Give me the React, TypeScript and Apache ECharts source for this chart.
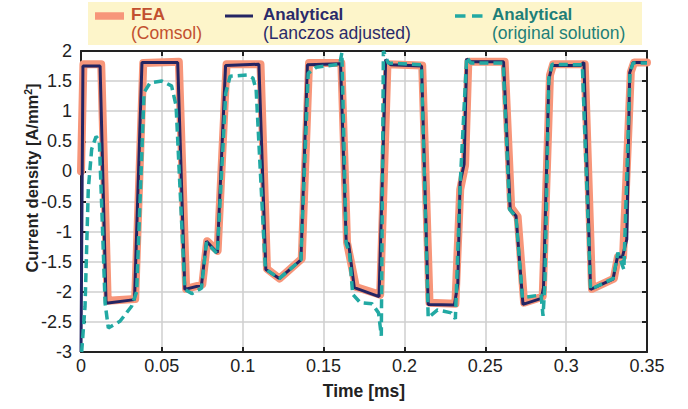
import { useEffect, useRef } from 'react';
import * as echarts from 'echarts';

// ---------- data (time in ms, current density in A/mm^2) ----------
const xTicks = [0, 0.05, 0.1, 0.15, 0.2, 0.25, 0.3, 0.35];
const yTicks = [-3, -2.5, -2, -1.5, -1, -0.5, 0, 0.5, 1, 1.5, 2];

const feaTime = [0, 0.0015, 0.0125, 0.0165, 0.0335, 0.0385, 0.0605, 0.065, 0.075, 0.078, 0.0845, 0.09, 0.111, 0.115, 0.1228, 0.1365, 0.141, 0.161, 0.1645, 0.17, 0.185, 0.1895, 0.211, 0.2155, 0.2315, 0.2345, 0.2375, 0.2395, 0.262, 0.266, 0.27, 0.274, 0.2855, 0.29, 0.292, 0.3115, 0.316, 0.3295, 0.332, 0.3352, 0.34, 0.342, 0.35];
const feaValue = [0, 1.78, 1.78, -2.15, -2.12, 1.8, 1.82, -1.95, -1.88, -1.16, -1.32, 1.78, 1.78, -1.62, -1.78, -1.45, 1.8, 1.8, -1.18, -1.92, -2.05, 1.78, 1.76, -2.18, -2.2, -0.3, 0.1, 1.82, 1.82, -0.6, -0.75, -2.18, -2.08, 1.6, 1.78, 1.78, -1.95, -1.78, -1.42, -1.42, 1.65, 1.81, 1.81];

const lanczosTime = [0, 0.0012, 0.0118, 0.0155, 0.0331, 0.0377, 0.0598, 0.0642, 0.0745, 0.0776, 0.0843, 0.0894, 0.11, 0.1143, 0.1226, 0.136, 0.14, 0.1605, 0.164, 0.1655, 0.169, 0.1843, 0.1884, 0.1915, 0.2106, 0.2147, 0.2309, 0.233, 0.2344, 0.2369, 0.2385, 0.2406, 0.2613, 0.2654, 0.269, 0.2733, 0.2847, 0.286, 0.2893, 0.2913, 0.3089, 0.311, 0.3151, 0.329, 0.3317, 0.3348, 0.3375, 0.3393, 0.3414, 0.35];
const lanczosValue = [-3, 1.75, 1.75, -2.19, -2.13, 1.81, 1.81, -1.96, -1.89, -1.16, -1.35, 1.76, 1.78, -1.63, -1.78, -1.47, 1.77, 1.79, -1.18, -1.2, -1.93, -2.08, 1.86, 1.77, 1.75, -2.21, -2.22, -1.87, -0.19, 0.12, 1.87, 1.82, 1.82, -0.63, -0.74, -2.21, -2.11, -1.93, 1.53, 1.76, 1.76, 1.81, -1.96, -1.79, -1.42, -1.42, -1.13, 1.64, 1.81, 1.81];

const originalTime = [0.0004, 0.0025, 0.0045, 0.0066, 0.0093, 0.0113, 0.0128, 0.0149, 0.0169, 0.0241, 0.0313, 0.0344, 0.039, 0.0427, 0.05, 0.056, 0.0588, 0.0642, 0.0685, 0.0745, 0.0776, 0.0843, 0.0895, 0.0922, 0.1025, 0.1063, 0.1083, 0.114, 0.1226, 0.136, 0.1405, 0.1455, 0.16, 0.1613, 0.164, 0.166, 0.168, 0.1727, 0.18, 0.184, 0.1857, 0.187, 0.19, 0.2105, 0.2147, 0.2205, 0.229, 0.2315, 0.2345, 0.2385, 0.241, 0.261, 0.265, 0.269, 0.273, 0.2845, 0.2857, 0.2868, 0.2893, 0.2913, 0.31, 0.3151, 0.329, 0.332, 0.3357, 0.3395, 0.3414, 0.35];
const originalValue = [-3, -2.24, -0.3, 0.37, 0.58, 0.52, -0.57, -2.19, -2.6, -2.49, -2.24, -2.0, 1.31, 1.47, 1.5, 1.42, 1.09, -1.96, -2.03, -1.94, -1.18, -1.37, 1.3, 1.58, 1.6, 1.55, 1.36, -1.62, -1.78, -1.47, 1.63, 1.73, 1.78, 1.97, -1.2, -1.35, -2.04, -2.18, -2.2, -2.35, -2.73, 2.0, 1.8, 1.77, -2.43, -2.3, -2.35, -2.45, -0.2, 1.9, 1.8, 1.8, -0.63, -0.76, -2.1, -2.05, -2.4, -1.9, 1.55, 1.78, 1.77, -1.96, -1.78, -1.35, -1.63, 1.64, 1.8, 1.8];

const legendLabels = [
  ['FEA', '(Comsol)'],
  ['Analytical', '(Lanczos adjusted)'],
  ['Analytical', '(original solution)'],
];

const FONT = 'Liberation Sans, Arial, Helvetica, sans-serif';
const C_FEA = '#F7967A';
const C_FEA_TXT = '#C2502F';
const C_NAVY = '#242563';
const C_NAVY_TXT = '#2A2A6A';
const C_TEAL = '#22A9A3';
const C_TEAL_TXT = '#1E7F78';

const zip = (t: number[], v: number[]) => t.map((x, i) => [x, v[i]]);

export default function App() {
  const ref = useRef<HTMLDivElement>(null);
  useEffect(() => {
    if (!ref.current) return;
    const chart = echarts.init(ref.current, undefined, { renderer: 'svg' });
    const xMin = xTicks[0], xMax = xTicks[xTicks.length - 1];
    const yMin = yTicks[0], yMax = yTicks[yTicks.length - 1];
    const fmt = (v: number) => String(parseFloat(v.toFixed(2)));
    const baseAxisLine = { show: true, lineStyle: { color: '#222', width: 2 } };
    const tick = { show: true, inside: true, length: 5, lineStyle: { color: '#222', width: 2 } };
    const swatchX = [95, 225, 455];
    const textX = [131, 263, 492];
    const txtColors = [C_FEA_TXT, C_NAVY_TXT, C_TEAL_TXT];
    const graphics: any[] = [
      { type: 'rect', shape: { x: 88, y: 2, width: 554, height: 43 }, style: { fill: '#FDF5CA' }, z: 10 },
      { type: 'line', shape: { x1: swatchX[0], y1: 16, x2: swatchX[0] + 29, y2: 16 }, style: { stroke: C_FEA, lineWidth: 7.5 }, z: 11 },
      { type: 'line', shape: { x1: swatchX[1], y1: 16, x2: swatchX[1] + 28, y2: 16 }, style: { stroke: C_NAVY, lineWidth: 3 }, z: 11 },
      { type: 'line', shape: { x1: swatchX[2], y1: 16, x2: swatchX[2] + 28, y2: 16 }, style: { stroke: C_TEAL, lineWidth: 3.5, lineDash: [10.5, 6.5] }, z: 11 },
      {
        type: 'text', x: 32, y: 178, rotation: Math.PI / 2, z: 11,
        style: {
          text: 'Current density [A/mm{s|2}]', align: 'center', verticalAlign: 'middle',
          font: `bold 16.5px ${FONT}`, fill: '#222',
          rich: { s: { fontSize: 10.5, fontWeight: 'bold', fontFamily: FONT, fill: '#222', padding: [0, 0, 9, 0] } },
        },
      },
    ];
    legendLabels.forEach((lab, i) => {
      graphics.push({
        type: 'text', x: textX[i], y: 5.5, z: 11,
        style: {
          text: `{a|${lab[0]}}\n{b|${lab[1]}}`, verticalAlign: 'top', align: 'left',
          rich: {
            a: { fontFamily: FONT, fontWeight: 'bold', fontSize: 17, fill: txtColors[i], lineHeight: 18 },
            b: { fontFamily: FONT, fontSize: 17.5, fill: txtColors[i], lineHeight: 18 },
          },
        },
      });
    });
    chart.setOption({
      animation: false,
      backgroundColor: '#fff',
      grid: { left: 81, right: 41, top: 51, bottom: 57, show: false },
      xAxis: [
        {
          type: 'value', min: xMin, max: xMax, interval: 0.05, position: 'bottom',
          name: 'Time [ms]', nameLocation: 'middle', nameGap: 30,
          nameTextStyle: { fontFamily: FONT, fontWeight: 'bold', fontSize: 17.5, color: '#222' },
          axisLine: { ...baseAxisLine, onZero: false }, axisTick: tick,
          axisLabel: { fontFamily: FONT, fontSize: 18, color: '#222', margin: 5, formatter: fmt },
          splitLine: { show: true, lineStyle: { color: '#cfcfcf', width: 1.5 } },
        },
        {
          type: 'value', min: xMin, max: xMax, interval: 0.05, position: 'top',
          axisLine: { ...baseAxisLine, onZero: false }, axisTick: tick, axisLabel: { show: false }, splitLine: { show: false },
        },
      ],
      yAxis: [
        {
          type: 'value', min: yMin, max: yMax, interval: 0.5, position: 'left',
          axisLine: { ...baseAxisLine, onZero: false }, axisTick: tick,
          axisLabel: { fontFamily: FONT, fontSize: 18, color: '#222', margin: 9, formatter: fmt },
          splitLine: { show: true, lineStyle: { color: '#cfcfcf', width: 1.5 } },
        },
        {
          type: 'value', min: yMin, max: yMax, interval: 0.5, position: 'right',
          axisLine: { ...baseAxisLine, onZero: false }, axisTick: tick, axisLabel: { show: false }, splitLine: { show: false },
        },
      ],
      series: [
        { name: 'FEA (Comsol)', type: 'line', data: zip(feaTime, feaValue), showSymbol: false, symbol: 'none', lineStyle: { color: C_FEA, width: 8, join: 'round', cap: 'round' }, clip: true, z: 2 },
        { name: 'Analytical (Lanczos adjusted)', type: 'line', data: zip(lanczosTime, lanczosValue), showSymbol: false, symbol: 'none', lineStyle: { color: C_NAVY, width: 3 }, clip: true, z: 3 },
        { name: 'Analytical (original solution)', type: 'line', data: zip(originalTime, originalValue), showSymbol: false, symbol: 'none', lineStyle: { color: C_TEAL, width: 3.5, type: [9, 5] }, clip: true, z: 4 },
      ],
      graphic: graphics,
    });
    return () => chart.dispose();
  }, []);
  return <div ref={ref} style={{ position: 'fixed', left: 0, top: 0, width: 688, height: 409 }} />;
}
